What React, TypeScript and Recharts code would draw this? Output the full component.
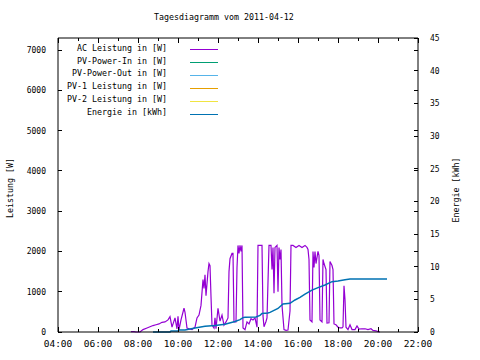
import { LineChart, Line, XAxis, YAxis, ReferenceLine } from "recharts"

// AC power, minutes since midnight / watts
const acMinutes = [
  459, 468, 474, 486, 495, 507, 516, 525, 534, 543, 552, 561, 570, 576, 582, 591, 597, 600, 603, 609,
  618, 621, 627, 633, 642, 651, 657, 663, 669, 675, 678, 681, 684, 690, 693, 696, 699, 702, 708, 711,
  714, 720, 726, 732, 738, 744, 750, 753, 756, 762, 765, 768, 774, 777, 780, 783, 786, 789, 792, 795,
  801, 807, 813, 819, 825, 831, 837, 840, 846, 852, 855, 858, 864, 867, 873, 879, 882, 885, 888, 891,
  897, 900, 903, 906, 909, 912, 918, 924, 930, 936, 939, 945, 954, 963, 972, 981, 987, 990, 993, 996,
  1002, 1005, 1008, 1011, 1014, 1020, 1023, 1026, 1032, 1035, 1038, 1044, 1047, 1053, 1056, 1062, 1065, 1068, 1074, 1080,
  1086, 1092, 1095, 1098, 1101, 1104, 1110, 1116, 1122, 1131, 1137, 1143, 1152, 1161, 1170, 1179, 1185, 1194, 1200, 1206,
]
const acWatts = [
  10, 10, 0, 0, 60, 100, 130, 160, 180, 200, 240, 250, 300, 380, 120, 350, 80, 390, 50, 300,
  590, 490, 100, 80, 60, 120, 350, 420, 660, 1300, 1080, 1420, 900, 1500, 1700, 1650, 880, 170, 100, 350,
  80, 590, 270, 420, 170, 250, 350, 1500, 1820, 1950, 1950, 250, 250, 1600, 2150, 1950, 2150, 2000, 2150, 100,
  60, 250, 200, 330, 300, 350, 120, 2150, 2150, 2150, 400, 130, 260, 350, 2150, 2150, 1550, 2100, 960, 2100,
  2150, 1000, 2100, 1800, 2050, 660, 60, 40, 50, 520, 2150, 2150, 2100, 2150, 2100, 2150, 2100, 2050, 1800, 300,
  250, 2000, 1600, 2000, 1700, 2000, 1900, 300, 250, 1800, 1700, 1550, 220, 230, 1750, 1650, 1550, 200, 180, 120,
  100, 100, 130, 1150, 800, 120, 60, 180, 60, 60, 150, 70, 80, 80, 60, 80, 40, 30, 10, 0,
]

// daily energy, minutes since midnight / kWh
const energyMinutes = [
  525, 576, 579, 600, 603, 621, 651, 681, 711, 741, 771, 786, 795, 801, 834, 846, 852, 870, 876, 900,
  915, 936, 951, 966, 981, 1002, 1020, 1041, 1062, 1080, 1101, 1116, 1227,
]
const energyKwh = [
  0, 0, 0.15, 0.15, 0.3, 0.3, 0.6, 0.87, 1.0, 1.2, 1.6, 1.9, 2.2, 2.25, 2.3, 2.55, 2.85, 2.9, 3.0, 3.6,
  4.3, 4.4, 4.9, 5.3, 5.8, 6.4, 6.8, 7.2, 7.7, 7.8, 8.0, 8.1, 8.1,
]

const xTicks = [240, 300, 360, 420, 480, 540, 600, 660, 720, 780, 840, 900, 960, 1020, 1080, 1140, 1200, 1260, 1320]
const powerTicks = [0, 1000, 2000, 3000, 4000, 5000, 6000, 7000]
const energyTicks = [0, 5, 10, 15, 20, 25, 30, 35, 40, 45]

const legendItems = [
  { label: "AC Leistung in [W]", color: "#9400d3" },
  { label: "PV-Power-In in [W]", color: "#009e73" },
  { label: "PV-Power-Out in [W]", color: "#56b4e9" },
  { label: "PV-1 Leistung in [W]", color: "#e69f00" },
  { label: "PV-2 Leistung in [W]", color: "#f0e442" },
  { label: "Energie in [kWh]", color: "#0072b2" },
]

const FONT = '"DejaVu Sans Mono", "Liberation Mono", monospace'
const PLOT_W = 360
const PLOT_H = 294

const hhmm = (m: number) =>
  `${String(Math.floor(m / 60)).padStart(2, "0")}:${String(m % 60).padStart(2, "0")}`

// merge both series on one time axis
const byTime = new Map<number, { t: number; ac?: number; e?: number }>()
acMinutes.forEach((t, i) => byTime.set(t, { ...(byTime.get(t) ?? { t }), ac: acWatts[i] }))
energyMinutes.forEach((t, i) => byTime.set(t, { ...(byTime.get(t) ?? { t }), e: energyKwh[i] }))
const rows = [...byTime.values()].sort((a, b) => a.t - b.t)

function TimeTick({ x, y, payload }: any) {
  const major = payload.value % 120 === 0
  const len = major ? 5 : 3
  return (
    <g shapeRendering="crispEdges">
      <line x1={x} y1={y} x2={x} y2={y - len} stroke="#000" />
      <line x1={x} y1={y - PLOT_H} x2={x} y2={y - PLOT_H + len} stroke="#000" />
      {major && (
        <text x={x} y={y + 15} textAnchor="middle" fontSize={9.5} fontFamily={FONT} fill="#000">
          {hhmm(payload.value)}
        </text>
      )}
    </g>
  )
}

function PowerTick({ x, y, payload }: any) {
  return (
    <g shapeRendering="crispEdges">
      <line x1={x} y1={y} x2={x + 4} y2={y} stroke="#000" />
      <line x1={x + PLOT_W} y1={y} x2={x + PLOT_W - 4} y2={y} stroke="#000" />
      <text x={x - 12} y={y + 3} textAnchor="end" fontSize={8} fontFamily={FONT} fill="#000">
        {payload.value}
      </text>
    </g>
  )
}

function EnergyTick({ x, y, payload }: any) {
  return (
    <g shapeRendering="crispEdges">
      <line x1={x} y1={y} x2={x - 4} y2={y} stroke="#000" />
      <text x={x + 12} y={y + 3} textAnchor="start" fontSize={8} fontFamily={FONT} fill="#000">
        {payload.value}
      </text>
    </g>
  )
}

const rotated = (cx: number, cy: number): React.CSSProperties => ({
  position: "absolute",
  left: cx,
  top: cy,
  transform: "translate(-50%, -50%) rotate(-90deg)",
  whiteSpace: "nowrap",
  fontSize: 8.3,
})

export default function App() {
  return (
    <div
      style={{
        position: "absolute",
        left: 0,
        top: 0,
        width: 480,
        height: 360,
        background: "#fff",
        fontFamily: FONT,
        color: "#000",
      }}
    >
      <LineChart width={480} height={360} data={rows} margin={{ top: 38, right: 61, bottom: 27, left: 57 }}>
        <XAxis
          dataKey="t"
          type="number"
          domain={[240, 1320]}
          ticks={xTicks}
          interval={0}
          height={1}
          tickSize={0}
          tickMargin={0}
          tickLine={false}
          tick={<TimeTick />}
          stroke="#000"
          allowDataOverflow
        />
        <YAxis
          yAxisId="l"
          domain={[0, 7300]}
          ticks={powerTicks}
          interval={0}
          width={1}
          tickSize={0}
          tickMargin={0}
          tickLine={false}
          tick={<PowerTick />}
          stroke="#000"
        />
        <YAxis
          yAxisId="r"
          orientation="right"
          domain={[0, 45]}
          ticks={energyTicks}
          interval={0}
          width={1}
          tickSize={0}
          tickMargin={0}
          tickLine={false}
          tick={<EnergyTick />}
          stroke="#000"
        />
        <ReferenceLine yAxisId="l" y={7300} stroke="#000" />
        <Line
          yAxisId="l"
          dataKey="ac"
          type="linear"
          stroke="#9400d3"
          strokeWidth={1.2}
          dot={false}
          connectNulls
          isAnimationActive={false}
        />
        <Line
          yAxisId="r"
          dataKey="e"
          type="linear"
          stroke="#0072b2"
          strokeWidth={1.5}
          dot={false}
          connectNulls
          isAnimationActive={false}
        />
      </LineChart>

      <div style={{ position: "absolute", left: 154, top: 12, fontSize: 8.3, lineHeight: "11px", whiteSpace: "nowrap" }}>
        Tagesdiagramm vom 2011-04-12
      </div>

      {legendItems.map((item, i) => (
        <div key={item.label}>
          <div
            style={{
              position: "absolute",
              left: 0,
              width: 167,
              top: 48.5 + 12.7 * i - 5.5,
              height: 11,
              lineHeight: "11px",
              textAlign: "right",
              fontSize: 8.3,
              whiteSpace: "nowrap",
            }}
          >
            {item.label}
          </div>
          <div
            style={{
              position: "absolute",
              left: 190,
              width: 28,
              top: 49 + 13 * i,
              height: 1,
              background: item.color,
            }}
          />
        </div>
      ))}

      <div style={rotated(10, 188)}>Leistung [W]</div>
      <div style={rotated(456, 190)}>Energie [kWh]</div>
    </div>
  )
}
